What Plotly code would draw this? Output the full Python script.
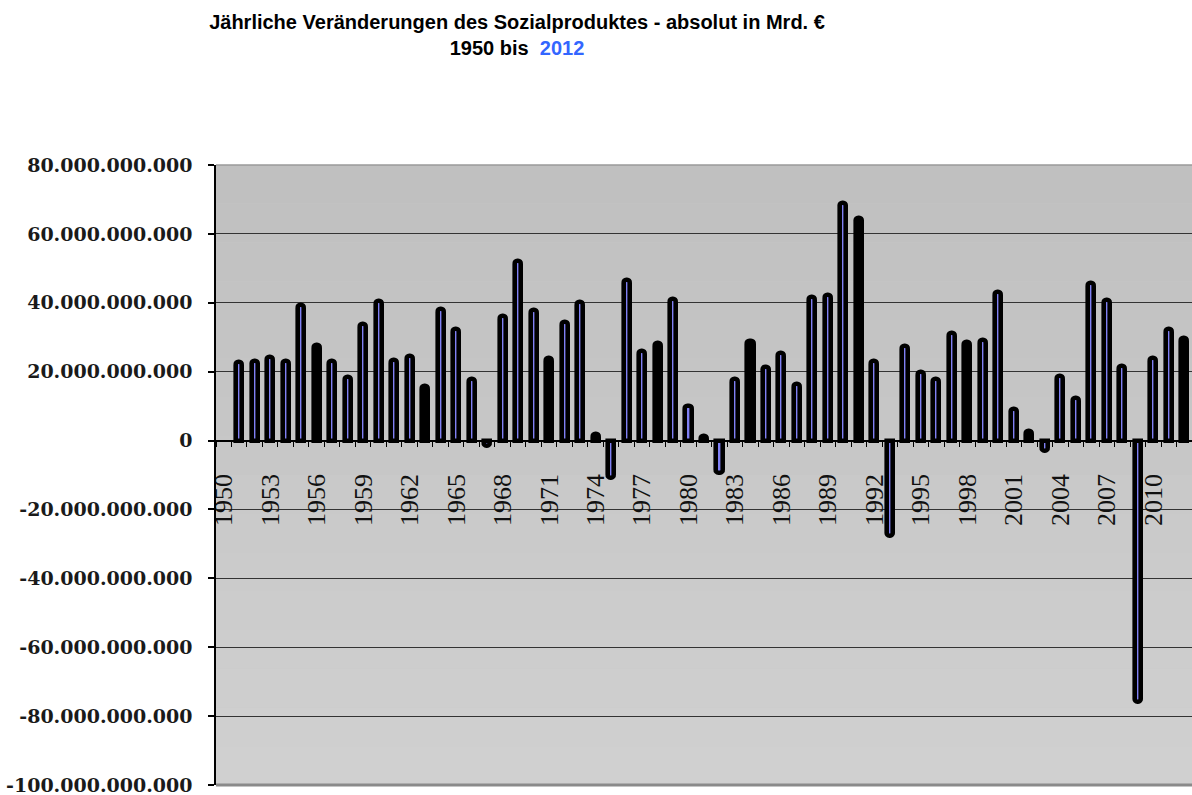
import plotly.graph_objects as go

# ---- data (values in Mrd. €) ----
years = list(range(1950, 2013))
changes_mrd = [None,
    22.7, 23.1, 24.2, 23.1, 39.3, 27.7, 23.1, 18.4, 33.7, 40.4,   # 1951-1960
    23.4, 24.6, 15.7, 38.3, 32.5, 17.9, -1.5, 36.1, 52.0, 37.8,   # 1961-1970
    23.9, 34.5, 40.1, 1.9, -10.8, 46.5, 26.0, 28.2, 41.0, 9.9,    # 1971-1980
    1.4, -9.3, 17.8, 29.0, 21.5, 25.3, 16.4, 41.7, 42.4, 69.0,    # 1981-1990
    64.5, 23.2, -27.6, 27.5, 20.0, 17.8, 31.3, 28.7, 29.1, 43.1,  # 1991-2000
    9.1, 2.7, -2.9, 18.6, 12.5, 45.7, 40.7, 21.7, -75.8, 23.9,    # 2001-2010
    32.5, 29.8]                                                   # 2011-2012

x_tick_years = [1950, 1953, 1956, 1959, 1962, 1965, 1968, 1971, 1974, 1977,
                1980, 1983, 1986, 1989, 1992, 1995, 1998, 2001, 2004, 2007, 2010]
x_tick_labels = [str(y) for y in x_tick_years]

y_tick_values = [80, 60, 40, 20, 0, -20, -40, -60, -80, -100]
y_tick_labels = ["80.000.000.000", "60.000.000.000", "40.000.000.000",
                 "20.000.000.000", "0", "-20.000.000.000", "-40.000.000.000",
                 "-60.000.000.000", "-80.000.000.000", "-100.000.000.000"]

# bars that render without the thin inner highlight line
solid_years = {1956, 1963, 1971, 1974, 1978, 1981, 1984, 1991, 1998, 2002, 2012}
fill_colors = ["#000000" if y in solid_years else "#8080f4" for y in years]

fig = go.Figure()
fig.add_trace(go.Bar(
    x=years, y=changes_mrd, width=0.39,
    marker=dict(color=fill_colors, line=dict(color="#000000", width=4.6),
                cornerradius=3),
    showlegend=False,
))

# gradient-like plot background (bands)
n_bands = 16
shapes = []
for i in range(n_bands):
    g = min(0xC0 + round(i * 16 / (n_bands - 1)), 0xD0)
    col = f"#{g:02x}{g:02x}{g:02x}"
    shapes.append(dict(type="rect", xref="paper", yref="paper",
                       x0=0, x1=1, y0=1 - (i + 1) / n_bands, y1=1 - i / n_bands,
                       fillcolor=col, line=dict(width=0), layer="below"))
# top and bottom frame lines
shapes.append(dict(type="line", xref="paper", yref="paper", x0=0, x1=1, y0=1, y1=1,
                   line=dict(color="#9a9a9a", width=1.5), layer="above"))
shapes.append(dict(type="line", xref="paper", yref="paper", x0=0, x1=1, y0=0, y1=0,
                   line=dict(color="#8a8a8a", width=3), layer="above"))

fig.update_layout(
    width=1192, height=795,
    margin=dict(l=216, r=0, t=165, b=10),
    paper_bgcolor="white",
    plot_bgcolor="#c8c8c8",
    shapes=shapes,
    bargap=0,
    title=dict(
        text="Jährliche Veränderungen des Sozialproduktes - absolut in Mrd. €<br>"
             "1950 bis\u00a0\u00a0<span style='color:#3366ff'>2012</span>",
        x=517 / 1192, xanchor="center", xref="container",
        y=1 - 29 / 795, yanchor="top", yref="container",
        font=dict(family="Liberation Sans Narrow, Arial Narrow, Liberation Sans, Arial",
                  size=20, color="#000000", weight="bold"),
    ),
    xaxis=dict(
        type="linear", range=[1949.5, 2012.5],
        anchor="free", position=100 / 180,
        showline=True, linecolor="#000000", linewidth=1,
        showgrid=False, zeroline=False,
        tickmode="array", tickvals=x_tick_years, ticktext=x_tick_labels,
        ticks="", tickangle=-90, ticklabelstandoff=22,
        tickfont=dict(family="Liberation Serif, Times New Roman, serif", size=26,
                      color="#111111"),
        minor=dict(ticks="outside", ticklen=5, tickcolor="#000000", tickwidth=1,
                   tick0=1949.5, dtick=1, showgrid=False),
        layer="below traces",
        fixedrange=True,
    ),
    yaxis=dict(
        range=[-100, 80],
        tickmode="array", tickvals=y_tick_values, ticktext=y_tick_labels,
        showgrid=True, gridcolor="#333333", gridwidth=1,
        zeroline=True, zerolinecolor="#000000", zerolinewidth=1.5,
        showline=True, linecolor="#000000", linewidth=1.5,
        ticks="outside", ticklen=6, tickcolor="#000000", tickwidth=1.5,
        ticklabelstandoff=12, ticklabeloverflow="allow",
        tickfont=dict(family="DejaVu Serif, serif", size=19, color="#1a1a1a",
                      weight="bold"),
        fixedrange=True,
    ),
)

fig.write_html("out.html",
               config={"displayModeBar": False},
               post_script="document.body.style.margin='0';"
                           "document.body.style.overflow='hidden';")
